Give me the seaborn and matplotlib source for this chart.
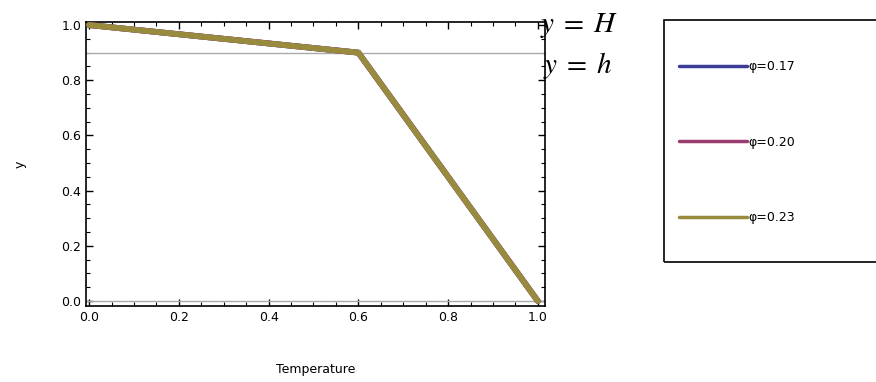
import pandas as pd
import numpy as np
import matplotlib.pyplot as plt
import seaborn as sns
from matplotlib.patches import Rectangle
from matplotlib.ticker import MultipleLocator

# %%
temperature = [0.0, 0.6, 1.0]
phis = ['0.17', '0.20', '0.23']
y_017 = [1.0, 0.9, 0.0]
y_020 = [1.0, 0.9, 0.0]
y_023 = [1.0, 0.9, 0.0]
H = 1.0
h = 0.9

data = pd.concat([
    pd.DataFrame({'Temperature': temperature, 'y': vals, 'phi': '\u03c6=' + p})
    for p, vals in zip(phis, [y_017, y_020, y_023])
])

colors = ['#3d3d99', '#993d70', '#998b3d']

# %%
sns.set_style('white')
plt.rcParams['font.family'] = ['DejaVu Sans']
plt.rcParams['mathtext.fontset'] = 'stix'
plt.rcParams['text.color'] = 'black'
plt.rcParams['axes.labelcolor'] = 'black'
plt.rcParams['xtick.color'] = 'black'
plt.rcParams['ytick.color'] = 'black'

fig = plt.figure(figsize=(8.76, 3.82), dpi=100)
ax = fig.add_axes([86 / 876, 1 - 306 / 382, (545 - 86) / 876, (306 - 22) / 382])

ax.axhline(h, color='#aaaaaa', lw=1, zorder=1)
ax.axhline(0, color='#aaaaaa', lw=1, zorder=1)

sns.lineplot(data=data, x='Temperature', y='y', hue='phi', palette=colors,
             lw=4.2, ax=ax, sort=False, estimator=None, zorder=3)

ax.set_xlim(-0.007, 1.016)
ax.set_ylim(-0.018, 1.011)
ax.xaxis.set_major_locator(MultipleLocator(0.2))
ax.xaxis.set_minor_locator(MultipleLocator(0.05))
ax.yaxis.set_major_locator(MultipleLocator(0.2))
ax.yaxis.set_minor_locator(MultipleLocator(0.05))
ax.tick_params(which='both', direction='in', top=True, right=True,
               bottom=True, left=True, labelsize=9, color='black')
ax.tick_params(which='major', length=5, width=1)
ax.tick_params(which='minor', length=3, width=0.8)
ax.xaxis.set_major_formatter(plt.FuncFormatter(lambda v, p: f'{v:.1f}'))
ax.yaxis.set_major_formatter(plt.FuncFormatter(lambda v, p: f'{v:.1f}'))
for s in ax.spines.values():
    s.set_color('black')
    s.set_linewidth(1.2)

ax.set_xlabel('Temperature', fontsize=9, labelpad=28)
ax.set_ylabel('y', fontsize=9, labelpad=25)

# reference line labels
ax.text(0.99, H, r'$y\;=\;H$', fontsize=21, ha='left', va='center',
        transform=ax.get_yaxis_transform(), clip_on=False)
ax.text(0.995, h - 0.045, r'$y\;=\;h$', fontsize=21, ha='left', va='center',
        transform=ax.get_yaxis_transform(), clip_on=False)

# legend box on the right
handles, labels = ax.get_legend_handles_labels()
ax.get_legend().remove()
fig.add_artist(Rectangle((664 / 876, 1 - 262 / 382), 240 / 876, 242 / 382,
                         transform=fig.transFigure, fill=False,
                         edgecolor='black', lw=1.2))
fig.legend(handles, labels, loc='upper left',
           bbox_to_anchor=(668 / 876, 1 - 49 / 382), frameon=False,
           fontsize=9, handlelength=5.4, handletextpad=0.1,
           labelspacing=5.0)
for lh in fig.legends[0].get_lines():
    lh.set_linewidth(2.5)

plt.savefig('out.png', dpi=100)
